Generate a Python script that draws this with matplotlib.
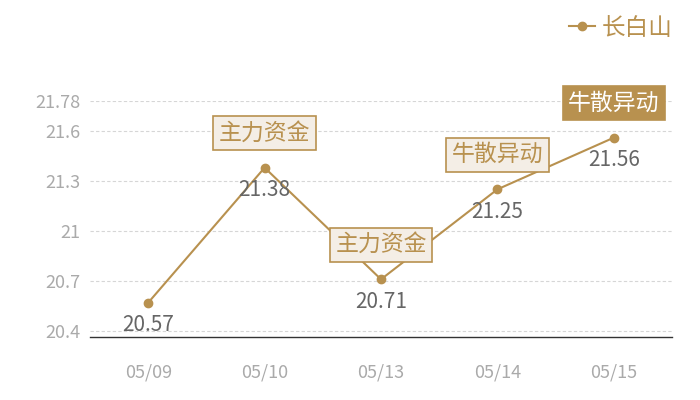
import matplotlib
matplotlib.use('Agg')
import matplotlib.pyplot as plt

plt.rcParams['font.family'] = ['Noto Sans CJK SC', 'DejaVu Sans']

dates = ['05/09', '05/10', '05/13', '05/14', '05/15']
prices = [20.57, 21.38, 20.71, 21.25, 21.56]
yticks = [20.4, 20.7, 21, 21.3, 21.6, 21.78]
ytick_labels = ['20.4', '20.7', '21', '21.3', '21.6', '21.78']
# index of point, label text, filled style
tags = [(1, '主力资金', False), (2, '主力资金', False), (3, '牛散异动', False), (4, '牛散异动', True)]

gold = '#b8914f'
light = '#f4eee6'
grey_txt = '#aaaaaa'

fig = plt.figure(figsize=(7, 4), dpi=100)
ax = fig.add_axes([0.1286, 0.1575, 0.8314, 0.59])

x = list(range(len(dates)))
ax.plot(x, prices, color=gold, lw=1.5, marker='o', ms=6, label='长白山', zorder=3)

ax.set_xlim(-0.5, len(dates) - 0.5)
ax.set_ylim(20.364, 21.78)
ax.set_yticks(yticks)
ax.set_yticklabels(ytick_labels)
ax.set_xticks(x)
ax.set_xticklabels(dates)
ax.tick_params(axis='y', length=0, pad=7, labelsize=13, labelcolor=grey_txt)
ax.tick_params(axis='x', length=0, pad=19, labelsize=13, labelcolor=grey_txt)
ax.grid(axis='y', color='#d6d6d6', ls=(0, (3, 2)), lw=0.8)
for s in ['top', 'right', 'left']:
    ax.spines[s].set_visible(False)
ax.spines['bottom'].set_color('#333333')
ax.spines['bottom'].set_linewidth(1)

for xi, p in zip(x, prices):
    ax.annotate(f'{p:.2f}', (xi, p), xytext=(0, -16), textcoords='offset points',
                ha='center', va='center', fontsize=15, color='#666666', zorder=4)

for i, txt, filled in tags:
    fc = gold if filled else light
    tc = 'white' if filled else gold
    ax.annotate(txt, (i, prices[i]), xytext=(0, 25), textcoords='offset points',
                ha='center', va='center', fontsize=16.5, color=tc, zorder=6,
                bbox=dict(boxstyle='square,pad=0.24', fc=fc, ec=gold, lw=1.2))

fig.legend(loc='upper right', bbox_to_anchor=(0.985, 1.0), frameon=False,
           fontsize=17, labelcolor=gold, handlelength=1.1, handletextpad=0.3,
           borderaxespad=0.3)

fig.savefig('out.png', dpi=100)
